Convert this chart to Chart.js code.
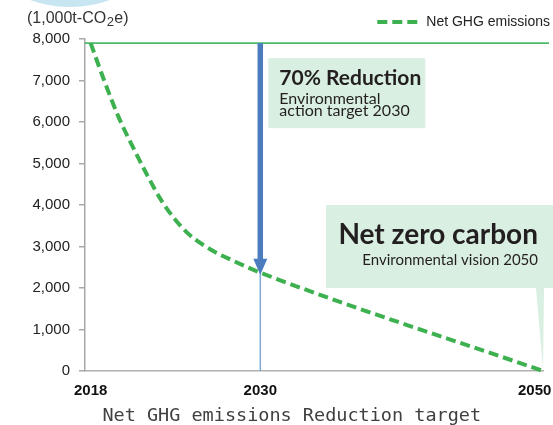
<!DOCTYPE html>
<html>
<head>
<meta charset="utf-8">
<script src="https://cdn.jsdelivr.net/npm/chart.js@4/dist/chart.umd.min.js"></script>
<style>
  html, body { margin: 0; padding: 0; background: #fff; }
</style>
</head>
<body>
<canvas id="chart" width="553" height="425"></canvas>
<script>
// values
const years = [2018, 2019, 2020, 2021, 2022, 2023, 2024, 2025, 2026, 2027, 2028, 2029, 2030, 2050];
const netEmissions = [7900, 6960, 6100, 5390, 4720, 4110, 3640, 3280, 3030, 2830, 2670, 2515, 2370, 0];
const xTickYears = [2018, 2030, 2050];
const baseLevel = 7900;      // 2018 level, green reference line
const target2030 = 2370;     // 70% reduction point
const seriesLabel = 'Net GHG emissions';
const axisTitle = 'Net GHG emissions Reduction target';
const unitLabel = ['(1,000t-CO', '2', 'e)'];
const box1Text = ['70% Reduction', 'Environmental', 'action target 2030'];
const box2Text = ['Net zero carbon', 'Environmental vision 2050'];

const green = '#3db04f';
const mint = '#d9efe1';
const dash = [10, 5];

const decor = {
    id: 'decor',
    beforeDraw(chart) {
        const c = chart.ctx;
        c.save();
        // pale blue disc cut by the top edge
        c.fillStyle = '#c8e5f2';
        c.beginPath();
        c.arc(70, -111, 118, 0, Math.PI * 2);
        c.fill();
        // unit label with subscript 2
        c.fillStyle = '#333';
        c.textBaseline = 'alphabetic';
        let x = 27;
        c.font = '16px "Liberation Sans"';
        c.fillText(unitLabel[0], x, 23);
        x += c.measureText(unitLabel[0]).width;
        c.font = '13px "Liberation Sans"';
        c.fillText(unitLabel[1], x + 0.5, 26);
        x += c.measureText(unitLabel[1]).width + 1;
        c.font = '16px "Liberation Sans"';
        c.fillText(unitLabel[2], x, 23);
        c.restore();
    },
    beforeDatasetsDraw(chart) {
        const { ctx: c, scales: { x, y }, chartArea: a } = chart;
        const x30 = x.getPixelForValue(2030);
        const x50 = x.getPixelForValue(2050);
        const yBase = y.getPixelForValue(baseLevel);
        const yT = y.getPixelForValue(target2030);
        const y0 = y.getPixelForValue(0);
        c.save();
        // 2018 level line
        c.strokeStyle = '#4dbb6b';
        c.lineWidth = 1.8;
        c.beginPath();
        c.moveTo(a.left, yBase);
        c.lineTo(a.right + 6, yBase);
        c.stroke();
        // thin drop line under the arrow
        c.strokeStyle = '#7ea8da';
        c.lineWidth = 1.5;
        c.beginPath();
        c.moveTo(x30, yT);
        c.lineTo(x30, y0);
        c.stroke();

        // box 1: 70% reduction
        c.fillStyle = mint;
        c.fillRect(x30 + 8, yBase + 15, 157, 70);
        c.fillStyle = '#231f20';
        c.textAlign = 'left';
        c.textBaseline = 'alphabetic';
        c.font = 'bold 21px Lato';
        c.fillText(box1Text[0], x30 + 19, yBase + 42);
        c.font = '16px Lato';
        c.fillText(box1Text[1], x30 + 19, yBase + 61);
        c.fillText(box1Text[2], x30 + 19, yBase + 73);

        // box 2: net zero
        const b2top = y.getPixelForValue(4000);
        const b2bot = y.getPixelForValue(2000);
        c.fillStyle = mint;
        c.fillRect(x50 - 217, b2top, chart.width - (x50 - 217), b2bot - b2top);
        c.beginPath();
        c.moveTo(x50 - 7, b2bot);
        c.lineTo(x50 + 1, b2bot);
        c.lineTo(x50, y0 - 2);
        c.closePath();
        c.fill();
        c.fillStyle = '#231f20';
        c.textAlign = 'right';
        c.font = 'bold 28px Lato';
        c.fillText(box2Text[0], x50 - 5, b2top + 39);
        c.font = '15px Lato';
        c.fillText(box2Text[1], x50 - 5, b2top + 60);
        c.restore();
    },
    afterDatasetsDraw(chart) {
        const { ctx: c, scales: { x, y } } = chart;
        const x30 = x.getPixelForValue(2030);
        const yBase = y.getPixelForValue(baseLevel);
        const yT = y.getPixelForValue(target2030);
        c.save();
        c.fillStyle = '#4a7cbe';
        c.fillRect(x30 - 2.75, yBase, 5.5, yT - 12 - yBase);
        c.beginPath();
        c.moveTo(x30 - 7, yT - 14);
        c.lineTo(x30 + 7, yT - 14);
        c.lineTo(x30, yT + 2);
        c.closePath();
        c.fill();
        c.restore();
    }
};

const ctx = document.getElementById('chart').getContext('2d');
new Chart(ctx, {
    type: 'line',
    data: {
        datasets: [{
            label: seriesLabel,
            data: years.map((yr, i) => ({ x: yr, y: netEmissions[i] })),
            borderColor: green,
            backgroundColor: green,
            borderWidth: 4,
            borderDash: dash,
            pointRadius: 0,
            cubicInterpolationMode: 'monotone',
            fill: false,
            clip: false
        }]
    },
    options: {
        responsive: false,
        animation: false,
        devicePixelRatio: 1,
        layout: { padding: { top: 3, right: -9, left: 0, bottom: 0 } },
        plugins: {
            legend: {
                position: 'top',
                align: 'end',
                labels: {
                    usePointStyle: true,
                    pointStyle: 'line',
                    pointStyleWidth: 42,
                    padding: 12,
                    color: '#222',
                    font: { family: 'Liberation Sans', size: 14 },
                    generateLabels: chart => Chart.defaults.plugins.legend.labels.generateLabels(chart)
                        .map(l => Object.assign(l, { lineDash: dash, lineWidth: 4, strokeStyle: green }))
                }
            },
            tooltip: { enabled: false }
        },
        scales: {
            x: {
                type: 'linear',
                min: 2017.6,
                max: 2050,
                afterBuildTicks: s => { s.ticks = xTickYears.map(v => ({ value: v })); },
                afterFit: s => { s.height = 54; s.paddingLeft = 0; s.paddingRight = 10; },
                grid: { display: false, drawTicks: false },
                border: { display: true, color: '#b0b0b0', width: 1.5 },
                ticks: {
                    autoSkip: false,
                    maxRotation: 0,
                    padding: 11,
                    color: '#111',
                    font: { family: 'Liberation Sans', size: 15, weight: 'bold' },
                    callback: v => v === 2050 ? '2050\u2007\u2007' : String(v)
                },
                title: {
                    display: true,
                    text: axisTitle + '    ',
                    color: '#404040',
                    font: { family: 'DejaVu Sans Mono', size: 18.5, lineHeight: 1 },
                    padding: { top: 0, bottom: 0 }
                }
            },
            y: {
                min: 0,
                max: 8000,
                afterFit: s => { s.width = 85; },
                ticks: {
                    stepSize: 1000,
                    padding: 9,
                    color: '#222',
                    font: { family: 'Liberation Sans', size: 15 }
                },
                grid: { drawOnChartArea: false, tickLength: 6, color: '#a8a8a8', lineWidth: 1.5 },
                border: { color: '#a8a8a8', width: 1.5 }
            }
        }
    },
    plugins: [decor]
});
</script>
</body>
</html>
